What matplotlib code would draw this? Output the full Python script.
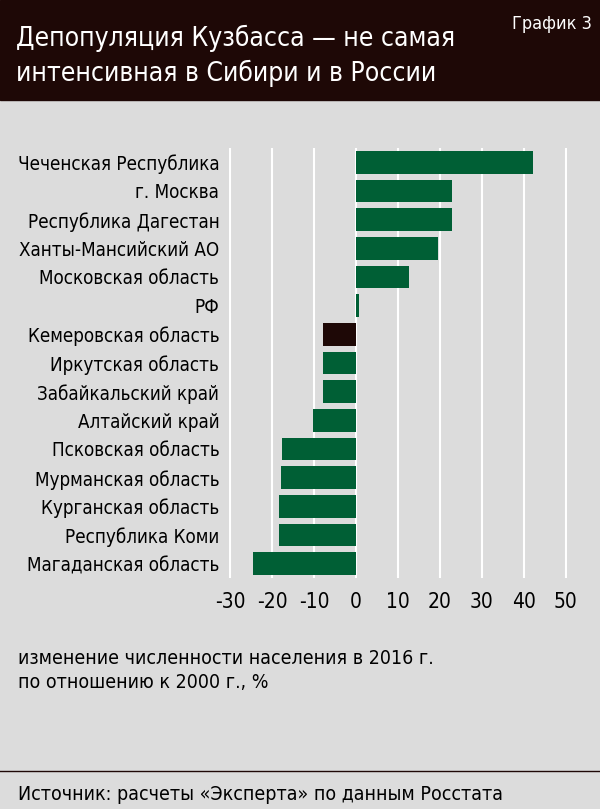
import matplotlib
matplotlib.use("Agg")
import matplotlib.pyplot as plt
from matplotlib import font_manager

fams = {f.name for f in font_manager.fontManager.ttflist}
FONT = "Liberation Sans Narrow" if "Liberation Sans Narrow" in fams else "DejaVu Sans"
plt.rcParams["font.family"] = FONT
plt.rcParams["font.stretch"] = "condensed"

regions = ["Чеченская Республика", "г. Москва", "Республика Дагестан", "Ханты-Мансийский АО",
           "Московская область", "РФ", "Кемеровская область", "Иркутская область",
           "Забайкальский край", "Алтайский край", "Псковская область", "Мурманская область",
           "Курганская область", "Республика Коми", "Магаданская область"]
values = [42.3, 22.8, 22.8, 19.5, 12.6, 0.7, -7.8, -8.0, -8.0, -10.2, -17.6, -17.8, -18.3, -18.3, -24.5]
ticks = [-30, -20, -10, 0, 10, 20, 30, 40, 50]

W, H = 600, 809
fig = plt.figure(figsize=(W/100, H/100), dpi=100)
fig.patch.set_facecolor("#dcdcdc")
fig.patches.append(plt.Rectangle((0, 1-100/H), 1, 100/H, transform=fig.transFigure, color="#1e0806", zorder=0))
fig.text(16/W, 1-38/H, "Депопуляция Кузбасса — не самая", color="white", fontsize=19, va="center")
fig.text(16/W, 1-73/H, "интенсивная в Сибири и в России", color="white", fontsize=19, va="center")
fig.text(592/W, 1-24/H, "График 3", color="white", fontsize=13, va="center", ha="right")

ax = fig.add_axes([229/W, 1-578/H, (567-229)/W, (578-148)/H])
ax.set_facecolor("#dcdcdc")
colors = ["#1e0806" if r == "Кемеровская область" else "#005f35" for r in regions]
y = list(range(len(regions)))
ax.barh(y, values, color=colors, height=0.78, zorder=3)
ax.set_ylim(len(regions)-0.5, -0.5)
ax.set_xlim(-30.3, 50.3)
ax.set_xticks(ticks)
ax.set_xticklabels([str(t) for t in ticks], fontsize=15)
ax.set_yticks(y)
ax.set_yticklabels(regions, fontsize=13.5)
ax.tick_params(length=0, pad=7)
ax.tick_params(axis="x", pad=10)
ax.grid(axis="x", color="white", lw=1.5, zorder=1)
for s in ax.spines.values():
    s.set_visible(False)

fig.text(18/W, 1-659/H, "изменение численности населения в 2016 г.", fontsize=14, va="center")
fig.text(18/W, 1-683/H, "по отношению к 2000 г., %", fontsize=14, va="center")
fig.lines.append(plt.Line2D([0, 1], [1-771/H]*2, transform=fig.transFigure, color="#1e0806", lw=1))
fig.text(18/W, 1-794/H, "Источник: расчеты «Эксперта» по данным Росстата", fontsize=14, va="center")
fig.savefig("out.png", dpi=100, facecolor=fig.get_facecolor())
